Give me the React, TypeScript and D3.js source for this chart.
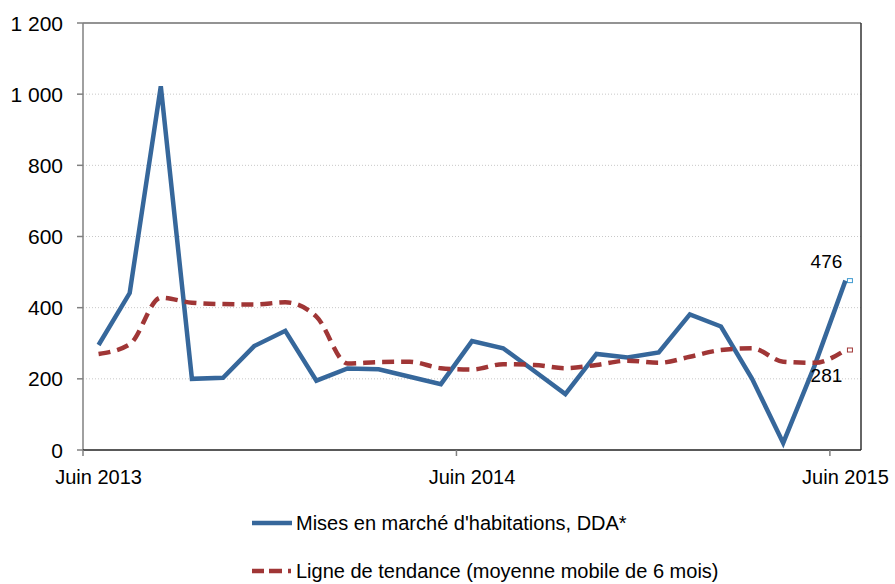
import React from 'react';
import * as d3 from 'd3';

const months = [
  'Jun 2013', 'Jul 2013', 'Aug 2013', 'Sep 2013', 'Oct 2013', 'Nov 2013', 'Dec 2013',
  'Jan 2014', 'Feb 2014', 'Mar 2014', 'Apr 2014', 'May 2014', 'Jun 2014', 'Jul 2014',
  'Aug 2014', 'Sep 2014', 'Oct 2014', 'Nov 2014', 'Dec 2014', 'Jan 2015', 'Feb 2015',
  'Mar 2015', 'Apr 2015', 'May 2015', 'Jun 2015'
];
const mises = [295, 441, 1022, 200, 203, 292, 335, 195, 229, 227, 206, 185, 306, 286, 222, 157, 270, 260, 274, 381, 347, 200, 20, 235, 476];
const tendance = [270, 297, 428, 414, 410, 409, 415, 375, 243, 247, 248, 230, 226, 241, 239, 230, 239, 251, 245, 262, 281, 286, 248, 245, 281];
const yTicks = [0, 200, 400, 600, 800, 1000, 1200];
const xTickLabels = [
  { i: 0, label: 'Juin 2013' },
  { i: 12, label: 'Juin 2014' },
  { i: 24, label: 'Juin 2015' }
];
const seriesNames = ['Mises en marché d\'habitations, DDA*', 'Ligne de tendance (moyenne mobile de 6 mois)'];

const W = 895, H = 584;
const margin = { top: 23, right: 34, bottom: 134, left: 83 };
const blue = '#36679b';
const red = '#a03636';
const font = 'Liberation Sans, Arial, sans-serif';

export default function App() {
  const x = d3.scaleBand<number>()
    .domain(d3.range(months.length))
    .range([margin.left, W - margin.right]);
  const y = d3.scaleLinear().domain([0, 1200]).range([H - margin.bottom, margin.top]);
  const cx = (i: number) => (x(i) as number) + x.bandwidth() / 2;

  const line1 = d3.line<number>().x((_, i) => cx(i)).y(d => y(d));
  const line2 = d3.line<number>().x((_, i) => cx(i)).y(d => y(d)).curve(d3.curveMonotoneX);

  const x0 = margin.left, x1 = W - margin.right, y0 = y(0), y1 = y(1200);
  const fmt = (v: number) => d3.format(',')(v).replace(',', ' ');
  const last = months.length - 1;

  return (
    <svg width={W} height={H} style={{ position: 'absolute', left: 0, top: 0 }} fontFamily={font}>
      <rect width={W} height={H} fill="#fff" />
      {yTicks.filter(t => t > 0 && t < 1200).map(t => (
        <line key={t} x1={x0} x2={x1} y1={y(t)} y2={y(t)} stroke="#c8c8c8" strokeWidth={1} strokeDasharray="1,2" />
      ))}
      <line x1={x0} x2={x1} y1={y1} y2={y1} stroke="#6f6f6f" strokeWidth={1.5} />
      <line x1={x1} x2={x1} y1={y1} y2={y0} stroke="#333" strokeWidth={1.5} />
      <line x1={x0} x2={x0} y1={y1} y2={y0} stroke="#808080" strokeWidth={1.5} />
      <line x1={x0} x2={x1} y1={y0} y2={y0} stroke="#222" strokeWidth={1.5} />
      {yTicks.map(t => (
        <g key={t}>
          <line x1={x0 - 6} x2={x0} y1={y(t)} y2={y(t)} stroke="#808080" strokeWidth={1.5} />
          <text x={63} y={y(t)} dy="0.36em" textAnchor="end" fontSize={21} fill="#000">{fmt(t)}</text>
        </g>
      ))}
      {xTickLabels.map(d => (
        <g key={d.i}>
          <line x1={x(d.i) as number} x2={x(d.i) as number} y1={y0} y2={y0 + 6} stroke="#808080" strokeWidth={1.5} />
          <text x={cx(d.i)} y={y0 + 34} textAnchor="middle" fontSize={20} fill="#000">{d.label}</text>
        </g>
      ))}
      <path d={line1(mises) || ''} fill="none" stroke={blue} strokeWidth={4.5} strokeLinejoin="miter" />
      <path d={line2(tendance) || ''} fill="none" stroke={red} strokeWidth={4.5} strokeDasharray="12,7" />
      <rect x={cx(last) + 2} y={y(mises[last]) - 2} width={5} height={4} fill="#fff" stroke="#3f9ad0" strokeWidth={1} />
      <rect x={cx(last) + 2} y={y(tendance[last]) - 2} width={5} height={4} fill="#fff" stroke={red} strokeWidth={1} />
      <text x={cx(last) - 19} y={y(mises[last]) - 13} textAnchor="middle" fontSize={19} fill="#000">{mises[last]}</text>
      <text x={cx(last) - 19} y={y(tendance[last]) + 32} textAnchor="middle" fontSize={19} fill="#000">{tendance[last]}</text>
      <g>
        <line x1={252} x2={292} y1={523} y2={523} stroke={blue} strokeWidth={4.5} />
        <text x={296} y={523} dy="0.36em" fontSize={20} fill="#000">{seriesNames[0]}</text>
        <line x1={252} x2={292} y1={571} y2={571} stroke={red} strokeWidth={4.5} strokeDasharray="12,5,13,6,3,100" />
        <text x={296} y={571} dy="0.36em" fontSize={20} fill="#000">{seriesNames[1]}</text>
      </g>
    </svg>
  );
}
